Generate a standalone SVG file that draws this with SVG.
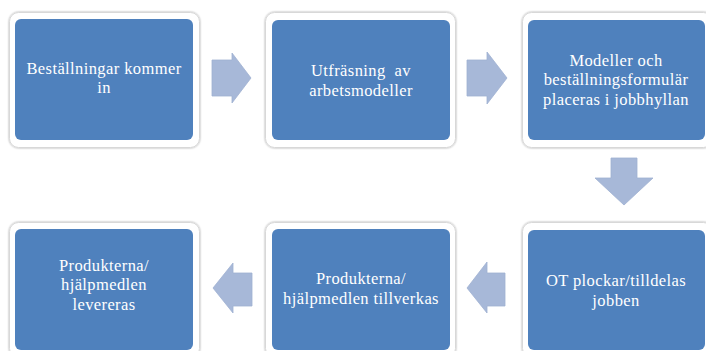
<svg xmlns="http://www.w3.org/2000/svg" width="706" height="351" viewBox="0 0 706 351">
<defs>
<filter id="sh" x="-10%" y="-10%" width="120%" height="120%">
<feGaussianBlur in="SourceAlpha" stdDeviation="1.2"/>
<feOffset dx="0" dy="0"/>
<feComponentTransfer><feFuncA type="linear" slope="0.35"/></feComponentTransfer>
<feMerge><feMergeNode/><feMergeNode in="SourceGraphic"/></feMerge>
</filter>
</defs>
<style>
.frame{fill:#ffffff;stroke:#d8d8d8;stroke-width:1}
.box{fill:#4f81bd}
.lbl{fill:#ffffff;font-family:"Liberation Serif",serif;font-size:16.5px;letter-spacing:0.4px;text-anchor:middle}
.arr{fill:#a7b8d8;stroke:#9fb1d2;stroke-width:0.8}
</style>
<rect width="706" height="351" fill="#ffffff"/>
<g id="connectors">
<path class="arr" d="M212,60 H232 V53 L251,78 L232,103 V96 H212 Z"/>
<path class="arr" d="M467,60 H487 V52 L507,78 L487,104 V96 H467 Z"/>
<path class="arr" d="M611,158 H637 V178 H653 L624,205 L595,178 H611 Z"/>
<path class="arr" d="M505,273 H487 V262 L467,288 L487,313 V306 H505 Z"/>
<path class="arr" d="M252,273 H233 V263 L213,288 L233,313 V306 H252 Z"/>
</g>
<g id="n1">
<rect class="frame" x="9.5" y="12.5" width="190" height="135" rx="9" filter="url(#sh)"/>
<rect class="box" x="15" y="19" width="178" height="121" rx="6"/>
<text class="lbl" x="104" y="74">Beställningar kommer</text>
<text class="lbl" x="104" y="93">in</text>
</g>
<g id="n2">
<rect class="frame" x="265.5" y="12.5" width="190" height="135" rx="9" filter="url(#sh)"/>
<rect class="box" x="272" y="20" width="178" height="120" rx="6"/>
<text class="lbl" x="361" y="76" xml:space="preserve">Utfräsning  av</text>
<text class="lbl" x="361" y="96">arbetsmodeller</text>
</g>
<g id="n3">
<rect class="frame" x="522.5" y="12.5" width="190" height="135" rx="9" filter="url(#sh)"/>
<rect class="box" x="528" y="20" width="177" height="120" rx="6"/>
<text class="lbl" x="616" y="66">Modeller och</text>
<text class="lbl" x="616" y="85">beställningsformulär</text>
<text class="lbl" x="616" y="105">placeras i jobbhyllan</text>
</g>
<g id="n4">
<rect class="frame" x="522.5" y="222.5" width="190" height="135" rx="9" filter="url(#sh)"/>
<rect class="box" x="528" y="230" width="177" height="120" rx="6"/>
<text class="lbl" x="616" y="286">OT plockar/tilldelas</text>
<text class="lbl" x="616" y="306">jobben</text>
</g>
<g id="n5">
<rect class="frame" x="265.5" y="222.5" width="190" height="135" rx="9" filter="url(#sh)"/>
<rect class="box" x="272" y="229" width="178" height="121" rx="6"/>
<text class="lbl" x="361" y="284">Produkterna/</text>
<text class="lbl" x="361" y="304">hjälpmedlen tillverkas</text>
</g>
<g id="n6">
<rect class="frame" x="9.5" y="222.5" width="190" height="135" rx="9" filter="url(#sh)"/>
<rect class="box" x="15" y="229" width="178" height="121" rx="6"/>
<text class="lbl" x="104" y="271">Produkterna/</text>
<text class="lbl" x="104" y="290">hjälpmedlen</text>
<text class="lbl" x="104" y="310">levereras</text>
</g>
</svg>
